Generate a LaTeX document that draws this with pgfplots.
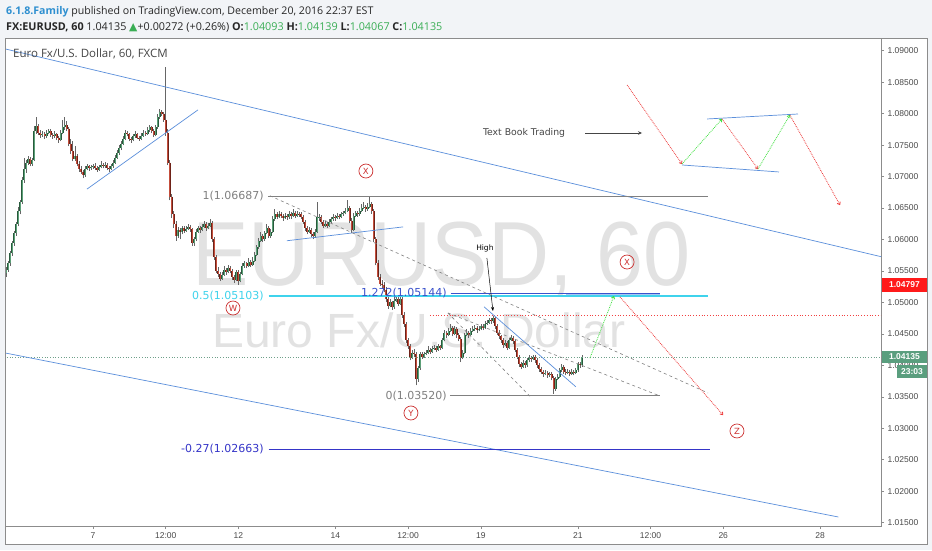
\documentclass[border=0pt]{standalone}
\usepackage{graphicx}
\usepackage{pgfplots}
\pgfplotsset{compat=1.18}
\usepackage{pgfplotstable}
\usetikzlibrary{arrows.meta}
\usepackage{fontspec}
\setmainfont{Open Sans}
\newfontfamily\dejavu{DejaVu Sans}
\newfontfamily\libsans{Liberation Sans}

\definecolor{pagebg}{HTML}{F2F4F7}
\definecolor{framegray}{HTML}{8C8C8C}
\definecolor{ticktext}{HTML}{4A4A4A}
\definecolor{wickc}{HTML}{666666}
\definecolor{tvblue}{HTML}{5B8FDB}
\definecolor{fibgray}{HTML}{808080}
\definecolor{fibcyan}{HTML}{3FD3EC}
\definecolor{fibblue}{HTML}{3A52CC}
\definecolor{fibblue2}{HTML}{3535C8}
\definecolor{hiblue}{HTML}{A9C5F2}
\definecolor{redline}{HTML}{F24040}
\definecolor{greenline}{HTML}{6FA08A}
\definecolor{arrowgreen}{HTML}{3BE03B}
\definecolor{arrowred}{HTML}{EE3B3B}
\definecolor{wred}{HTML}{CC3030}
\definecolor{upg}{HTML}{3AAE55}
\definecolor{famblue}{HTML}{2E8FD0}
\definecolor{labelred}{HTML}{FF1A1A}
\definecolor{labelgreen}{HTML}{5A9E7E}
\definecolor{wm}{HTML}{E2E2E2}
\definecolor{lbltext}{HTML}{454545}

\pgfplotsset{
  colormap={bodydark}{rgb255=(110,34,24) rgb255=(40,90,60)},
  colormap={bodylight}{rgb255=(196,78,60) rgb255=(92,160,120)},
}

% hourly EURUSD candles, x = bar index (0 = Dec 7 00:00)
\pgfplotstableread{
t o h l c
-43 1.0546 1.0556 1.0540 1.0552
-42 1.0552 1.0566 1.0549 1.0562
-41 1.0562 1.0581 1.0558 1.0578
-40 1.0578 1.0598 1.0574 1.0595
-39 1.0595 1.0614 1.0590 1.0610
-38 1.0610 1.0628 1.0606 1.0625
-37 1.0625 1.0652 1.0621 1.0645
-36 1.0645 1.0663 1.0640 1.0660
-35 1.0660 1.0700 1.0656 1.0695
-34 1.0695 1.0730 1.0690 1.0712
-33 1.0712 1.0726 1.0706 1.0722
-32 1.0722 1.0732 1.0718 1.0728
-31 1.0728 1.0731 1.0716 1.0720
-30 1.0720 1.0730 1.0717 1.0727
-29 1.0727 1.0780 1.0725 1.0772
-28 1.0772 1.0795 1.0768 1.0780
-27 1.0780 1.0783 1.0766 1.0770
-26 1.0770 1.0774 1.0762 1.0766
-25 1.0766 1.0772 1.0763 1.0768
-24 1.0768 1.0771 1.0760 1.0764
-23 1.0764 1.0774 1.0761 1.0770
-22 1.0770 1.0776 1.0767 1.0772
-21 1.0772 1.0775 1.0763 1.0766
-20 1.0766 1.0769 1.0760 1.0764
-19 1.0764 1.0772 1.0761 1.0768
-18 1.0768 1.0770 1.0758 1.0762
-17 1.0762 1.0765 1.0754 1.0758
-16 1.0758 1.0774 1.0756 1.0770
-15 1.0770 1.0790 1.0767 1.0778
-14 1.0778 1.0795 1.0774 1.0782
-13 1.0782 1.0788 1.0772 1.0776
-12 1.0776 1.0779 1.0748 1.0752
-11 1.0752 1.0760 1.0736 1.0740
-10 1.0740 1.0756 1.0724 1.0728
-9 1.0728 1.0748 1.0725 1.0732
-8 1.0732 1.0736 1.0716 1.0720
-7 1.0720 1.0724 1.0708 1.0712
-6 1.0712 1.0716 1.0704 1.0708
-5 1.0708 1.0711 1.0697 1.0702
-4 1.0702 1.0716 1.0700 1.0712
-3 1.0712 1.0720 1.0710 1.0716
-2 1.0716 1.0719 1.0709 1.0713
-1 1.0713 1.0719 1.0711 1.0715
0 1.0715 1.0720 1.0712 1.0716
1 1.0716 1.0722 1.0711 1.0714
2 1.0714 1.0717 1.0708 1.0711
3 1.0711 1.0719 1.0709 1.0715
4 1.0715 1.0724 1.0713 1.0718
5 1.0718 1.0721 1.0713 1.0716
6 1.0716 1.0723 1.0714 1.0719
7 1.0719 1.0721 1.0710 1.0714
8 1.0714 1.0717 1.0708 1.0712
9 1.0712 1.0720 1.0710 1.0716
10 1.0716 1.0726 1.0714 1.0722
11 1.0722 1.0734 1.0720 1.0730
12 1.0730 1.0742 1.0728 1.0738
13 1.0738 1.0750 1.0735 1.0745
14 1.0745 1.0756 1.0742 1.0752
15 1.0752 1.0764 1.0750 1.0760
16 1.0760 1.0774 1.0758 1.0770
17 1.0770 1.0773 1.0764 1.0768
18 1.0768 1.0770 1.0756 1.0760
19 1.0760 1.0763 1.0754 1.0758
20 1.0758 1.0768 1.0756 1.0764
21 1.0764 1.0772 1.0762 1.0768
22 1.0768 1.0770 1.0759 1.0762
23 1.0762 1.0765 1.0757 1.0760
24 1.0760 1.0769 1.0758 1.0765
25 1.0765 1.0774 1.0763 1.0770
26 1.0770 1.0773 1.0765 1.0768
27 1.0768 1.0778 1.0766 1.0774
28 1.0774 1.0782 1.0771 1.0778
29 1.0778 1.0780 1.0769 1.0772
30 1.0772 1.0775 1.0763 1.0766
31 1.0766 1.0782 1.0764 1.0778
32 1.0778 1.0800 1.0776 1.0795
33 1.0795 1.0808 1.0792 1.0803
34 1.0803 1.0806 1.0796 1.0800
35 1.0800 1.0803 1.0787 1.0790
36 1.0790 1.0874 1.0765 1.0770
37 1.0770 1.0775 1.0718 1.0722
38 1.0722 1.0726 1.0662 1.0668
39 1.0668 1.0672 1.0634 1.0640
40 1.0640 1.0646 1.0618 1.0625
41 1.0625 1.0630 1.0598 1.0606
42 1.0606 1.0620 1.0602 1.0615
43 1.0615 1.0619 1.0600 1.0612
44 1.0612 1.0622 1.0608 1.0618
45 1.0618 1.0621 1.0610 1.0614
46 1.0614 1.0622 1.0612 1.0617
47 1.0617 1.0624 1.0615 1.0620
48 1.0620 1.0623 1.0612 1.0616
49 1.0616 1.0619 1.0590 1.0594
50 1.0594 1.0604 1.0590 1.0600
51 1.0600 1.0616 1.0598 1.0612
52 1.0612 1.0622 1.0610 1.0618
53 1.0618 1.0621 1.0611 1.0615
54 1.0615 1.0624 1.0613 1.0620
55 1.0620 1.0630 1.0618 1.0624
56 1.0624 1.0627 1.0614 1.0618
57 1.0618 1.0626 1.0616 1.0622
58 1.0622 1.0632 1.0620 1.0626
59 1.0626 1.0629 1.0596 1.0600
60 1.0600 1.0604 1.0568 1.0572
61 1.0572 1.0576 1.0546 1.0550
62 1.0550 1.0556 1.0541 1.0545
63 1.0545 1.0549 1.0534 1.0538
64 1.0538 1.0548 1.0536 1.0544
65 1.0544 1.0558 1.0542 1.0552
66 1.0552 1.0555 1.0544 1.0548
67 1.0548 1.0560 1.0546 1.0555
68 1.0555 1.0558 1.0546 1.0550
69 1.0550 1.0553 1.0536 1.0540
70 1.0540 1.0544 1.0531 1.0536
71 1.0536 1.0552 1.0534 1.0548
72 1.0548 1.0551 1.0528 1.0534
73 1.0534 1.0549 1.0532 1.0545
74 1.0545 1.0562 1.0543 1.0558
75 1.0558 1.0566 1.0555 1.0562
76 1.0562 1.0565 1.0554 1.0558
77 1.0558 1.0570 1.0556 1.0565
78 1.0565 1.0568 1.0556 1.0560
79 1.0560 1.0572 1.0558 1.0566
80 1.0566 1.0580 1.0564 1.0575
81 1.0575 1.0592 1.0573 1.0588
82 1.0588 1.0603 1.0585 1.0598
83 1.0598 1.0612 1.0596 1.0606
84 1.0606 1.0609 1.0596 1.0600
85 1.0600 1.0614 1.0598 1.0610
86 1.0610 1.0624 1.0608 1.0618
87 1.0618 1.0621 1.0602 1.0606
88 1.0606 1.0616 1.0603 1.0612
89 1.0612 1.0638 1.0610 1.0632
90 1.0632 1.0648 1.0630 1.0640
91 1.0640 1.0643 1.0632 1.0636
92 1.0636 1.0645 1.0634 1.0640
93 1.0640 1.0644 1.0634 1.0638
94 1.0638 1.0641 1.0630 1.0634
95 1.0634 1.0642 1.0632 1.0638
96 1.0638 1.0641 1.0631 1.0635
97 1.0635 1.0645 1.0633 1.0640
98 1.0640 1.0643 1.0633 1.0637
99 1.0637 1.0648 1.0635 1.0642
100 1.0642 1.0645 1.0634 1.0638
101 1.0638 1.0646 1.0636 1.0641
102 1.0641 1.0644 1.0636 1.0640
103 1.0640 1.0643 1.0632 1.0636
104 1.0636 1.0639 1.0624 1.0628
105 1.0628 1.0631 1.0614 1.0618
106 1.0618 1.0621 1.0608 1.0612
107 1.0612 1.0620 1.0610 1.0615
108 1.0615 1.0618 1.0604 1.0608
109 1.0608 1.0612 1.0601 1.0605
110 1.0605 1.0616 1.0603 1.0612
111 1.0612 1.0660 1.0610 1.0635
112 1.0635 1.0641 1.0630 1.0636
113 1.0636 1.0639 1.0624 1.0628
114 1.0628 1.0631 1.0618 1.0622
115 1.0622 1.0629 1.0620 1.0625
116 1.0625 1.0628 1.0618 1.0622
117 1.0622 1.0632 1.0620 1.0628
118 1.0628 1.0636 1.0626 1.0632
119 1.0632 1.0640 1.0630 1.0636
120 1.0636 1.0639 1.0630 1.0634
121 1.0634 1.0642 1.0632 1.0638
122 1.0638 1.0641 1.0632 1.0636
123 1.0636 1.0644 1.0634 1.0640
124 1.0640 1.0646 1.0638 1.0642
125 1.0642 1.0650 1.0640 1.0645
126 1.0645 1.0662 1.0643 1.0650
127 1.0650 1.0653 1.0626 1.0630
128 1.0630 1.0634 1.0611 1.0615
129 1.0615 1.0642 1.0613 1.0638
130 1.0638 1.0646 1.0636 1.0642
131 1.0642 1.0645 1.0636 1.0640
132 1.0640 1.0650 1.0638 1.0645
133 1.0645 1.0656 1.0643 1.0650
134 1.0650 1.0660 1.0648 1.0652
135 1.0652 1.0655 1.0644 1.0648
136 1.0648 1.0658 1.0646 1.0652
137 1.0652 1.0668 1.0650 1.0656
138 1.0656 1.0660 1.0641 1.0645
139 1.0645 1.0648 1.0596 1.0600
140 1.0600 1.0604 1.0559 1.0563
141 1.0563 1.0567 1.0536 1.0540
142 1.0540 1.0545 1.0526 1.0530
143 1.0530 1.0536 1.0522 1.0528
144 1.0528 1.0532 1.0516 1.0520
145 1.0520 1.0524 1.0500 1.0505
146 1.0505 1.0509 1.0490 1.0495
147 1.0495 1.0506 1.0492 1.0500
148 1.0500 1.0503 1.0488 1.0492
149 1.0492 1.0508 1.0490 1.0502
150 1.0502 1.0512 1.0500 1.0506
151 1.0506 1.0509 1.0494 1.0498
152 1.0498 1.0510 1.0496 1.0505
153 1.0505 1.0508 1.0476 1.0480
154 1.0480 1.0484 1.0461 1.0465
155 1.0465 1.0469 1.0436 1.0440
156 1.0440 1.0444 1.0426 1.0430
157 1.0430 1.0434 1.0408 1.0412
158 1.0412 1.0424 1.0410 1.0420
159 1.0420 1.0426 1.0414 1.0418
160 1.0418 1.0421 1.0368 1.0378
161 1.0378 1.0399 1.0374 1.0395
162 1.0395 1.0422 1.0393 1.0418
163 1.0418 1.0421 1.0410 1.0414
164 1.0414 1.0422 1.0412 1.0418
165 1.0418 1.0424 1.0416 1.0420
166 1.0420 1.0430 1.0418 1.0425
167 1.0425 1.0428 1.0418 1.0422
168 1.0422 1.0430 1.0420 1.0426
169 1.0426 1.0432 1.0424 1.0428
170 1.0428 1.0431 1.0421 1.0425
171 1.0425 1.0434 1.0423 1.0430
172 1.0430 1.0433 1.0424 1.0428
173 1.0428 1.0444 1.0426 1.0440
174 1.0440 1.0456 1.0438 1.0452
175 1.0452 1.0455 1.0444 1.0448
176 1.0448 1.0460 1.0446 1.0455
177 1.0455 1.0466 1.0453 1.0460
178 1.0460 1.0463 1.0446 1.0450
179 1.0450 1.0462 1.0448 1.0458
180 1.0458 1.0461 1.0444 1.0448
181 1.0448 1.0451 1.0438 1.0442
182 1.0442 1.0445 1.0405 1.0412
183 1.0412 1.0424 1.0410 1.0420
184 1.0420 1.0452 1.0418 1.0448
185 1.0448 1.0458 1.0446 1.0452
186 1.0452 1.0455 1.0444 1.0448
187 1.0448 1.0460 1.0446 1.0455
188 1.0455 1.0462 1.0453 1.0458
189 1.0458 1.0464 1.0455 1.0460
190 1.0460 1.0463 1.0452 1.0456
191 1.0456 1.0462 1.0454 1.0458
192 1.0458 1.0466 1.0456 1.0462
193 1.0462 1.0465 1.0456 1.0460
194 1.0460 1.0470 1.0458 1.0466
195 1.0466 1.0472 1.0464 1.0468
196 1.0468 1.0476 1.0466 1.0472
197 1.0472 1.0475 1.0466 1.0470
198 1.0470 1.0479 1.0468 1.0475
199 1.0475 1.0477 1.0458 1.0462
200 1.0462 1.0465 1.0448 1.0452
201 1.0452 1.0456 1.0442 1.0446
202 1.0446 1.0449 1.0436 1.0440
203 1.0440 1.0443 1.0428 1.0432
204 1.0432 1.0440 1.0430 1.0436
205 1.0436 1.0439 1.0424 1.0428
206 1.0428 1.0444 1.0426 1.0440
207 1.0440 1.0448 1.0438 1.0444
208 1.0444 1.0447 1.0434 1.0438
209 1.0438 1.0441 1.0421 1.0425
210 1.0425 1.0428 1.0410 1.0414
211 1.0414 1.0417 1.0398 1.0402
212 1.0402 1.0405 1.0394 1.0398
213 1.0398 1.0408 1.0396 1.0404
214 1.0404 1.0407 1.0396 1.0400
215 1.0400 1.0412 1.0398 1.0408
216 1.0408 1.0416 1.0406 1.0412
217 1.0412 1.0415 1.0406 1.0410
218 1.0410 1.0417 1.0408 1.0413
219 1.0413 1.0416 1.0404 1.0408
220 1.0408 1.0411 1.0396 1.0400
221 1.0400 1.0403 1.0390 1.0394
222 1.0394 1.0397 1.0386 1.0390
223 1.0390 1.0393 1.0382 1.0386
224 1.0386 1.0392 1.0384 1.0388
225 1.0388 1.0391 1.0380 1.0384
226 1.0384 1.0390 1.0382 1.0386
227 1.0386 1.0389 1.0376 1.0380
228 1.0380 1.0383 1.0355 1.0362
229 1.0362 1.0382 1.0360 1.0378
230 1.0378 1.0386 1.0376 1.0382
231 1.0382 1.0396 1.0380 1.0392
232 1.0392 1.0402 1.0390 1.0398
233 1.0398 1.0401 1.0386 1.0390
234 1.0390 1.0394 1.0384 1.0388
235 1.0388 1.0394 1.0386 1.0390
236 1.0390 1.0393 1.0383 1.0387
237 1.0387 1.0394 1.0385 1.0390
238 1.0390 1.0392 1.0384 1.0388
239 1.0388 1.0396 1.0386 1.0392
240 1.0392 1.0406 1.0390 1.0402
241 1.0402 1.0405 1.0396 1.0400
242 1.0400 1.0416 1.0398 1.0414
}\candles

\newcommand\fibfont{\dejavu\fontsize{11}{13}\selectfont}
\newcommand\wavelabel[2]{\node[circle, draw=wred, text=wred, line width=0.7pt,
  inner sep=0pt, minimum size=14pt, font=\dejavu\fontsize{8.5}{9}\selectfont]
  at (axis cs:#1) {#2};}

\begin{document}
\begin{tikzpicture}[x=1pt,y=1pt]
\useasboundingbox (0,0) rectangle (932,550);
\fill[pagebg] (0,0) rectangle (932,550);
\fill[white] (5,6) rectangle (927,512);

% watermark
\node[anchor=base west, inner sep=0, text=wm, font=\libsans\fontsize{91}{91}\selectfont]
  at (192,265) {\scalebox{0.93}[1]{EURUSD, 60}};
\node[anchor=base west, inner sep=0, text=wm, font=\libsans\fontsize{48}{48}\selectfont]
  at (212,203) {Euro Fx/U.S. Dollar};

\begin{axis}[
  at={(5pt,24pt)}, anchor=south west,
  width=876pt, height=488pt, scale only axis,
  xmin=-43.56, xmax=390.1,
  ymin=1.014471, ymax=1.092018,
  axis line style={draw=framegray, line width=0.6pt},
  xtick={0,36,72,120,156,192,240,276,312,360},
  xticklabels={7,12:00,12,14,12:00,19,21,12:00,26,28},
  ytick={1.015,1.02,1.025,1.03,1.035,1.04,1.045,1.05,1.055,1.06,1.065,1.07,1.075,1.08,1.085,1.09},
  xtick pos=left, ytick pos=right, yticklabel pos=right,
  tick align=outside, major tick length=3pt,
  tick style={draw=framegray, line width=0.5pt},
  tick label style={font=\libsans\fontsize{8.5}{10}\selectfont, text=ticktext},
  /pgf/number format/assume math mode=true,
  yticklabel style={/pgf/number format/.cd, fixed, fixed zerofill, precision=5},
  point meta min=0, point meta max=1,
  clip=true,
]

% candles: wicks, then bodies (dark edge, light core)
\addplot[wickc, line width=0.6pt, quiver={u=0, v=\thisrow{h}-\thisrow{l}}]
  table[x=t, y=l] {\candles};
\addplot[colormap name=bodydark, point meta={\thisrow{c}>\thisrow{o}}, line width=2pt,
  quiver={u=0, v=\thisrow{c}-\thisrow{o}, colored=mapped color}]
  table[x=t, y=o] {\candles};
\addplot[colormap name=bodylight, point meta={\thisrow{c}>\thisrow{o}}, line width=0.8pt,
  quiver={u=0, v=\thisrow{c}-\thisrow{o}, colored=mapped color}]
  table[x=t, y=o] {\candles};

% price lines
\addplot[greenline, dotted, line width=0.7pt] coordinates {(-44,1.04135) (391,1.04135)};
\addplot[redline, dotted, line width=0.8pt] coordinates {(166.8,1.04797) (391,1.04797)};

% channel and trend lines
\addplot[tvblue, line width=0.7pt] coordinates {(-45,1.0904) (391,1.0572)};
\addplot[tvblue, line width=0.7pt] coordinates {(-44,1.0420) (369,1.0159)};
\addplot[tvblue, line width=0.7pt] coordinates {(-3,1.0680) (52,1.0806)};
\addplot[tvblue, line width=0.7pt] coordinates {(96,1.0598) (153.5,1.0620)};
\addplot[tvblue, line width=0.7pt] coordinates {(193.6,1.0493) (239,1.0366)};

% fib levels
\addplot[fibgray, line width=0.7pt] coordinates {(86.6,1.06687) (304.5,1.06687)};
\addplot[fibgray, line width=0.7pt] coordinates {(176.7,1.0352) (280.7,1.0352)};
\addplot[fibcyan, line width=1.6pt] coordinates {(87,1.05103) (304.5,1.05103)};
\addplot[hiblue, line width=2.2pt] coordinates {(234,1.0513) (280.7,1.0513)};
\addplot[fibblue, line width=0.8pt] coordinates {(177,1.05144) (280.7,1.05144)};
\addplot[fibblue2, line width=0.9pt] coordinates {(87,1.02663) (305.4,1.02663)};
\node[anchor=east, inner sep=1pt, text=fibgray, font=\fibfont] at (axis cs:85.1,1.06687) {1(1.06687)};
\node[anchor=east, inner sep=1pt, text=fibcyan, font=\fibfont] at (axis cs:85.1,1.05103) {0.5(1.05103)};
\node[anchor=east, inner sep=1pt, text=fibblue, font=\fibfont] at (axis cs:175.7,1.05144) {1.272(1.05144)};
\node[anchor=east, inner sep=1pt, text=fibgray, font=\fibfont] at (axis cs:175.7,1.0352) {0(1.03520)};
\node[anchor=east, inner sep=1pt, text=fibblue2, font=\fibfont] at (axis cs:85.1,1.02663) {-0.27(1.02663)};

% dashed fork lines
\addplot[fibgray, dashed, line width=0.6pt] coordinates {(87.6,1.06695) (304.5,1.0356)};
\addplot[fibgray, dashed, line width=0.6pt] coordinates {(175.7,1.04832) (280.7,1.03513)};
\addplot[fibgray, dashed, line width=0.6pt] coordinates {(175.7,1.04832) (216.3,1.0351)};

% high marker
\node[font=\dejavu\fontsize{7.5}{9}\selectfont] at (axis cs:194,1.05865) {High};
\addplot[black, line width=0.5pt, -{Stealth[length=4pt,width=3pt]}] coordinates {(195,1.05706) (198,1.04864)};

% projected path
\addplot[arrowgreen, densely dotted, line width=0.8pt, -{To[length=3pt,width=4pt]}] coordinates {(246,1.04115) (257.9,1.05101)};
\addplot[arrowred, densely dotted, line width=0.8pt, -{To[length=3pt,width=4pt]}] coordinates {(260.9,1.05086) (311.9,1.03211)};

% text book pattern
\addplot[tvblue, line width=0.7pt] coordinates {(304,1.07915) (349,1.07994)};
\addplot[tvblue, line width=0.7pt] coordinates {(291.6,1.07184) (339.6,1.07073)};
\addplot[arrowred, densely dotted, line width=0.8pt, -{To[length=3pt,width=4pt]}] coordinates {(264.4,1.08455) (291.6,1.0720)};
\addplot[arrowgreen, densely dotted, line width=0.8pt, -{To[length=3pt,width=4pt]}] coordinates {(291.6,1.0720) (311.4,1.07915)};
\addplot[arrowred, densely dotted, line width=0.8pt, -{To[length=3pt,width=4pt]}] coordinates {(311.4,1.07915) (329.2,1.0712)};
\addplot[arrowgreen, densely dotted, line width=0.8pt, -{To[length=3pt,width=4pt]}] coordinates {(329.2,1.0712) (345,1.07978)};
\addplot[arrowred, densely dotted, line width=0.8pt, -{To[length=3pt,width=4pt]}] coordinates {(345,1.07978) (369.8,1.06548)};
\node[anchor=west, inner sep=0pt, text=lbltext, font=\dejavu\fontsize{9.3}{11}\selectfont] at (axis cs:193,1.07692) {Text Book Trading};
\addplot[lbltext, line width=0.9pt, -{Stealth[length=4pt,width=3.5pt]}] coordinates {(243.6,1.07692) (271.8,1.07692)};

% wave labels
\wavelabel{135.1,1.07088}{X}
\wavelabel{69.3,1.04911}{W}
\wavelabel{157.4,1.03243}{Y}
\wavelabel{264.4,1.05642}{X}
\wavelabel{318.8,1.02957}{Z}
\end{axis}

\draw[framegray, line width=0.6pt] (5,6) rectangle (927,512);

% header
\node[anchor=base west, inner sep=0, text=black!85, font=\fontsize{10.6}{13}\selectfont] at (6,535)
  {{\color{famblue}\textbf{6.1.8.Family}} published on TradingView.com, December 20, 2016 22:37 EST};
\node[anchor=base west, inner sep=0, text=black!85, font=\fontsize{10.8}{13}\selectfont] at (6,519)
  {\textbf{FX:EURUSD, 60}\ 1.04135 {\dejavu\color{upg}▲}+0.00272 (+0.26\%)\ \textbf{O:}{\color{upg}1.04093} \textbf{H:}{\color{upg}1.04139} \textbf{L:}{\color{upg}1.04067} \textbf{C:}{\color{upg}1.04135}};
\node[anchor=base west, inner sep=0, text=lbltext, font=\fontsize{11.5}{13}\selectfont] at (13,492)
  {Euro Fx/U.S. Dollar, 60, FXCM};

% price scale labels
\fill[labelred] (882,258) rectangle (927,272);
\node[text=white, font=\libsans\bfseries\fontsize{8.5}{10}\selectfont] at (904.5,265) {1.04797};
\fill[labelgreen] (882,187) rectangle (927,199);
\node[text=white, font=\libsans\bfseries\fontsize{8.5}{10}\selectfont] at (904.5,193) {1.04135};
\fill[labelgreen] (897,172) rectangle (927,185);
\node[text=white, font=\libsans\bfseries\fontsize{8.5}{10}\selectfont] at (912,178.5) {23:03};
\end{tikzpicture}
\end{document}
